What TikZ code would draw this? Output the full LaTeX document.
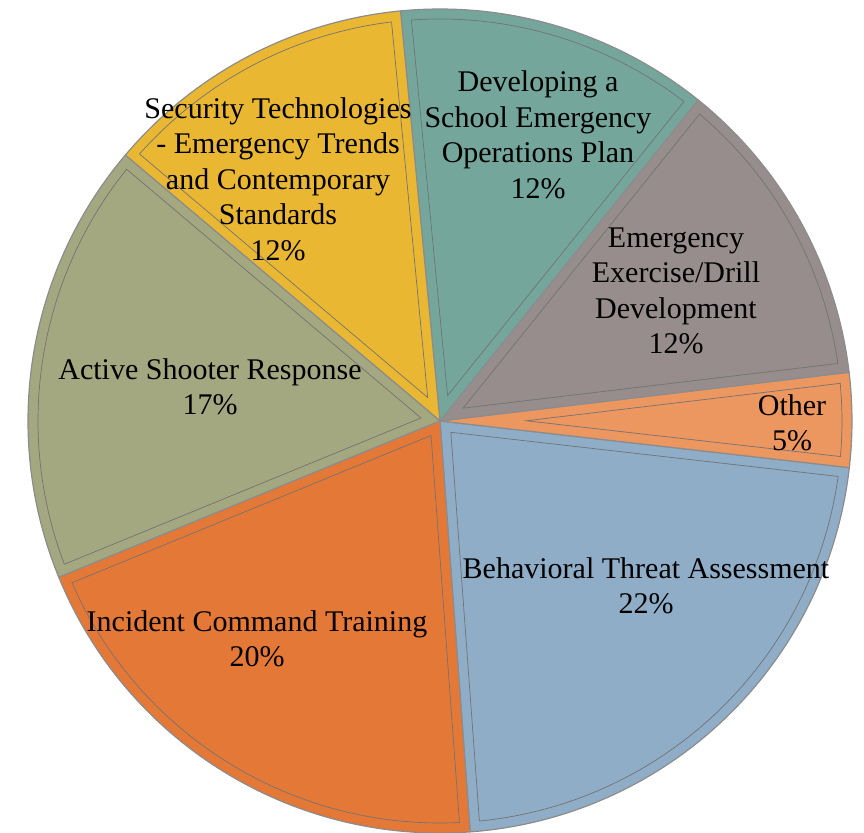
\documentclass[tikz,border=0pt]{standalone}
\usepackage{fontspec}
\setmainfont{Liberation Serif}
\definecolor{secyellow}{RGB}{233,183,50}
\definecolor{devteal}{RGB}{117,166,155}
\definecolor{exegray}{RGB}{151,141,141}
\definecolor{othorange}{RGB}{236,150,96}
\definecolor{behblue}{RGB}{143,173,199}
\definecolor{incorange}{RGB}{228,120,55}
\definecolor{actgreen}{RGB}{163,168,128}

\begin{document}
\begin{tikzpicture}[x=1pt, y=1pt,
  wedge/.style={draw=black!45, line width=1.2pt, line join=round},
  bevel/.style={draw=black!55, line width=0.7pt},
  lbl/.style={align=center, text=black, font=\fontsize{30}{35.5}\selectfont}]
\useasboundingbox (-440pt,-411pt) rectangle (424pt,421pt);

% slices: start angle / end angle / colour
\foreach \a/\b/\c in {-85.8/-6.5/behblue, -6.5/6.8/othorange, 6.8/51.2/exegray,
    51.2/95.5/devteal, 95.5/139.8/secyellow, 139.8/202.3/actgreen, 202.3/274.2/incorange}{
  \pgfmathsetmacro\m{(\a+\b)/2}
  \pgfmathsetmacro\p{10/sin((\b-\a)/2)}
  \pgfmathsetmacro\dl{asin(10/402)}
  \draw[wedge, fill=\c] (0,0) -- (\a:412pt) arc[start angle=\a, end angle=\b, radius=412pt] -- cycle;
  \draw[bevel] (\m:\p pt) -- (\a+\dl:402pt) arc[start angle=\a+\dl, end angle=\b-\dl, radius=402pt] -- cycle;
}

\node[lbl] (lblsec) at (-162pt,242pt) {Security Technologies\\- Emergency Trends\\and Contemporary\\Standards\\12\%};
\node[lbl] (lbldev) at (98pt,286pt) {Developing a\\School Emergency\\Operations Plan\\12\%};
\node[lbl] (lblexe) at (236pt,130pt) {Emergency\\Exercise/Drill\\Development\\12\%};
\node[lbl] (lbloth) at (352pt,-2pt) {Other\\5\%};
\node[lbl] (lblbeh) at (206pt,-165pt) {Behavioral Threat Assessment\\22\%};
\node[lbl] (lblinc) at (-183pt,-218pt) {Incident Command Training\\20\%};
\node[lbl] (lblact) at (-230pt,34pt) {Active Shooter Response\\17\%};

\end{tikzpicture}
\end{document}
